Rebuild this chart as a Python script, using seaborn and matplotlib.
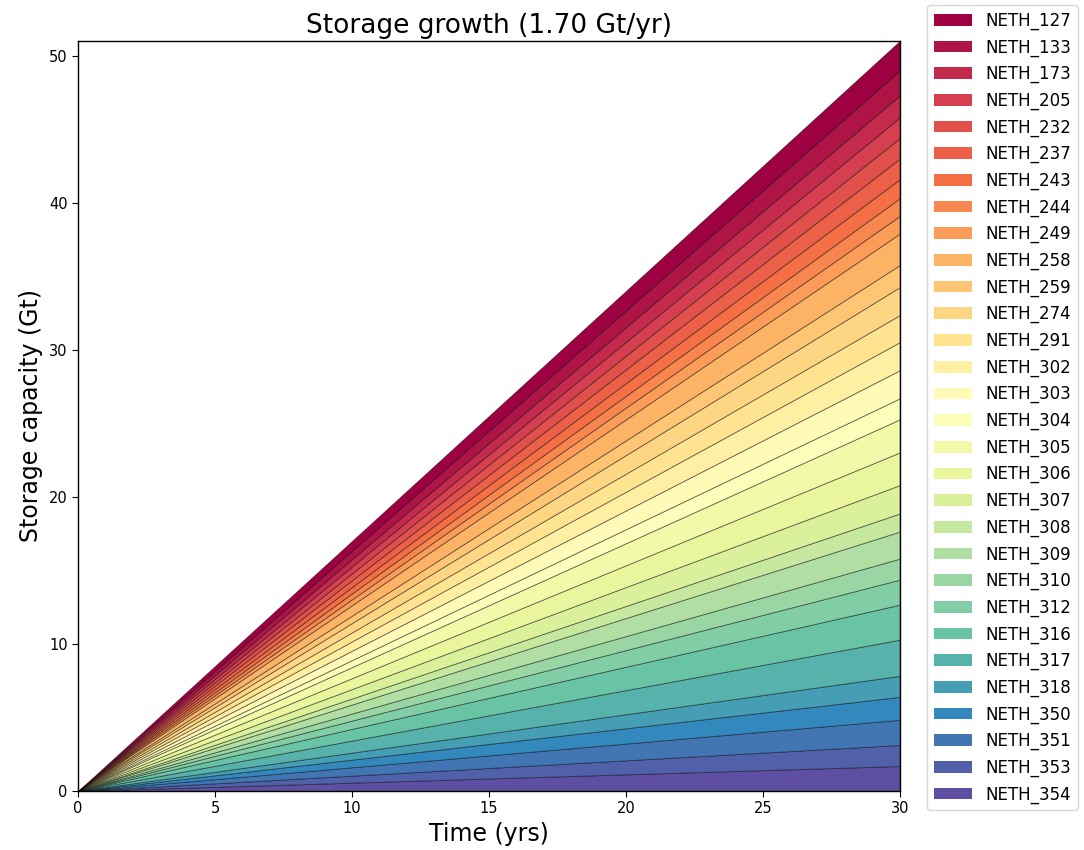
import numpy as np
import matplotlib
matplotlib.use("Agg")
import matplotlib.pyplot as plt
import matplotlib.patches as mpatches
import seaborn as sns

# Injection sites, listed from the bottom of the stack upwards
sites = [
    "NETH_354", "NETH_353", "NETH_351", "NETH_350", "NETH_318", "NETH_317",
    "NETH_316", "NETH_312", "NETH_310", "NETH_309", "NETH_308", "NETH_307",
    "NETH_306", "NETH_305", "NETH_304", "NETH_303", "NETH_302", "NETH_291",
    "NETH_274", "NETH_259", "NETH_258", "NETH_249", "NETH_244", "NETH_243",
    "NETH_237", "NETH_232", "NETH_205", "NETH_173", "NETH_133", "NETH_127",
]

# Time axis (years) and stored CO2 per site (Gt) at the start and the end
years = [0, 30]
start_capacity = [0.0] * len(sites)
end_capacity = [
    1.70, 1.43, 1.71, 1.56, 1.43, 2.46,
    2.38, 1.70, 1.43, 1.84, 1.23, 1.93,
    2.22, 2.25, 1.43, 1.91, 1.91, 1.84,
    1.90, 1.50, 2.14, 1.20, 1.20, 1.30,
    1.40, 1.40, 1.40, 1.50, 1.70, 2.00,
]

x_ticks = [0, 5, 10, 15, 20, 25, 30]
y_ticks = [0, 10, 20, 30, 40, 50]

sns.set_style("ticks", rc={"text.color": "black", "axes.labelcolor": "black",
                           "xtick.color": "black", "ytick.color": "black",
                           "axes.edgecolor": "black"})
plt.rcParams["font.family"] = ["DejaVu Sans"]

# Spectral colours: NETH_127 at the red end, NETH_354 at the violet end
spectral = sns.color_palette("Spectral", as_cmap=True)
colors = [spectral(v) for v in np.linspace(0, 1, len(sites))][::-1]

fig = plt.figure(figsize=(10.84, 8.5), dpi=100)
ax = fig.add_axes([0.072, 0.0694, 0.758, 0.8824])

series = [[s, e] for s, e in zip(start_capacity, end_capacity)]
polys = ax.stackplot(years, series, colors=colors, labels=sites)
for p in polys:
    p.set_edgecolor((0, 0, 0, 0.5))
    p.set_linewidth(0.6)

total_rate = sum(end_capacity) / (years[1] - years[0])
ax.set_title(f"Storage growth ({total_rate:.2f} Gt/yr)", fontsize=19,
             color="black")
ax.set_xlabel("Time (yrs)", fontsize=17)
ax.set_ylabel("Storage capacity (Gt)", fontsize=17)
ax.set_xlim(0, 30)
ax.set_ylim(0, 51)
ax.set_xticks(x_ticks)
ax.set_yticks(y_ticks)
ax.tick_params(labelsize=10.5, length=4, color="black", labelcolor="black")
for s in ax.spines.values():
    s.set_edgecolor("black")
    s.set_linewidth(1.0)

handles = [mpatches.Patch(facecolor=c, edgecolor="none", label=l)
           for c, l in zip(colors, sites)][::-1]
leg = ax.legend(handles=handles, loc="upper left",
                bbox_to_anchor=(1.033, 1.048), borderaxespad=0, fontsize=12,
                handlelength=2.3, frameon=True, fancybox=True,
                framealpha=0.8, edgecolor="#cccccc", labelspacing=0.505)
for t in leg.get_texts():
    t.set_color("black")

fig.savefig("out.png", dpi=100)
